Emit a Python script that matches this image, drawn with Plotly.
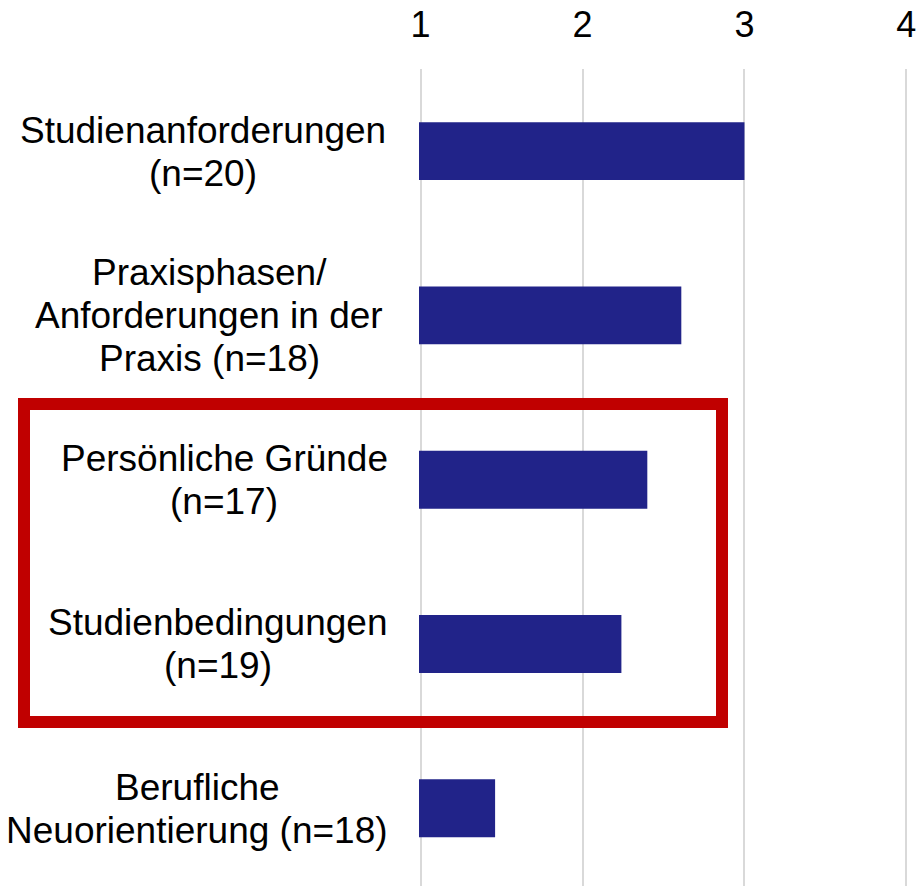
import plotly.graph_objects as go

# ---- data ----
categories = [
    "Studienanforderungen (n=20)",
    "Praxisphasen/ Anforderungen in der Praxis (n=18)",
    "Persönliche Gründe (n=17)",
    "Studienbedingungen (n=19)",
    "Berufliche Neuorientierung (n=18)",
]
label_lines = [
    ["Studienanforderungen", "(n=20)"],
    ["Praxisphasen/", "Anforderungen in der", "Praxis (n=18)"],
    ["Persönliche Gründe", "(n=17)"],
    ["Studienbedingungen", "(n=19)"],
    ["Berufliche", "Neuorientierung (n=18)"],
]
values = [3.00, 2.61, 2.40, 2.24, 1.46]
tick_values = [1, 2, 3, 4]
tick_labels = ["1", "2", "3", "4"]
highlighted = [2, 3]  # indices of highlighted categories

# ---- layout constants ----
W, H = 916, 886
ML, MR, MT, MB = 419, 8, 69, 0
FONT = "Liberation Sans, Arial, sans-serif"
BAR_COLOR = "#212389"
label_center_px = [203, 209, 224, 218, 197]  # horizontal centre of each label block
LINE_GAP = 43
LABEL_SIZE = 37
X_RANGE = [0.99, 4.01]
Y_RANGE = [len(categories) - 1 + 0.474, -0.5]

fig = go.Figure(
    go.Bar(
        x=values,
        y=list(range(len(categories))),
        orientation="h",
        marker=dict(color=BAR_COLOR, line=dict(width=0)),
        width=0.353,
        base=0,
        hoverinfo="x",
    )
)

annotations = []
for ci, lines in enumerate(label_lines):
    n = len(lines)
    for li, txt in enumerate(lines):
        off = li - (n - 1) / 2
        annotations.append(
            dict(
                text=txt,
                xref="paper",
                x=0,
                xanchor="center",
                xshift=label_center_px[ci] - ML,
                yref="y",
                y=ci,
                yanchor="middle",
                yshift=-0.5 - off * LINE_GAP,
                showarrow=False,
                font=dict(family=FONT, size=LABEL_SIZE, color="#000000"),
            )
        )

# highlight box around the highlighted categories (paper refs so it is not clipped)
plot_w = W - ML - MR
lo, hi = min(highlighted), max(highlighted)


def y_to_paper(v):
    return (Y_RANGE[0] - v) / (Y_RANGE[0] - Y_RANGE[1])


fig.add_shape(
    type="rect",
    xref="paper",
    yref="paper",
    x0=(24 - ML) / plot_w,
    x1=(722 - ML) / plot_w,
    y0=y_to_paper(lo - 0.46),
    y1=y_to_paper(hi + 0.476),
    line=dict(color="#C00000", width=12),
    fillcolor="rgba(0,0,0,0)",
    layer="above",
)

fig.update_layout(
    width=W,
    height=H,
    margin=dict(l=ML, r=MR, t=MT, b=MB, pad=0),
    paper_bgcolor="white",
    plot_bgcolor="white",
    showlegend=False,
    annotations=annotations,
    font=dict(family=FONT, color="#000000"),
    xaxis=dict(
        side="top",
        range=X_RANGE,
        tickvals=tick_values,
        ticktext=tick_labels,
        tickfont=dict(family=FONT, size=36, color="#000000"),
        ticklabeloverflow="allow",
        showgrid=True,
        gridcolor="#D9D9D9",
        gridwidth=1.5,
        zeroline=False,
        showline=False,
        ticks="",
        ticklabelstandoff=24,
        automargin=False,
        fixedrange=True,
    ),
    yaxis=dict(
        range=Y_RANGE,
        showticklabels=False,
        showgrid=False,
        zeroline=False,
        showline=False,
        ticks="",
        fixedrange=True,
    ),
)

fig.write_html(
    "out.html",
    config={"displayModeBar": False},
    post_script="document.body.style.margin='0';document.body.style.overflow='hidden';",
)
